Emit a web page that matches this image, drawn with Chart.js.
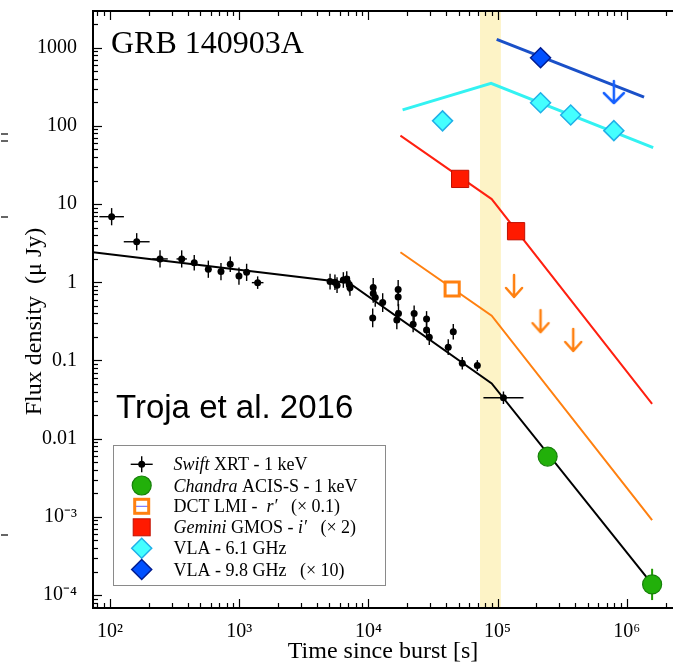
<!DOCTYPE html>
<html>
<head>
<meta charset="utf-8">
<script src="https://cdn.jsdelivr.net/npm/chart.js@4"></script>
<style>
html, body { margin: 0; padding: 0; background: #fff; overflow: hidden; }
canvas { display: block; }
</style>
</head>
<body>
<canvas id="lc" width="673" height="672"></canvas>
<script>
// Swift XRT 1 keV points (time in s, flux in uJy), errors in dex
const xrtTime = [103, 161, 244, 359, 449, 577, 723, 853, 996, 1142, 1390,
  5050, 5510, 5720, 6400, 6800, 7110, 7200,
  10900, 10900, 11300, 10800, 12900,
  17000, 17000, 17100, 16600, 22600, 22200, 28200, 28200, 29600,
  41500, 45400, 53300, 69700, 111000];
const xrtFlux = [6.9, 3.3, 1.99, 1.99, 1.78, 1.47, 1.37, 1.70, 1.20, 1.34, 0.99,
  1.02, 1.0, 0.92, 1.07, 1.10, 0.94, 0.85,
  0.86, 0.72, 0.64, 0.35, 0.55,
  0.81, 0.65, 0.40, 0.33, 0.40, 0.29, 0.34, 0.245, 0.198,
  0.148, 0.233, 0.092, 0.086, 0.0334];
const xrtTimeErr = [0.095, 0.1, 0.06, 0.04, 0.02, 0.02, 0.02, 0.02, 0.02, 0.02, 0.045,
  0.01, 0.01, 0.01, 0.01, 0.01, 0.01, 0.01,
  0.01, 0.01, 0.01, 0.01, 0.01,
  0.01, 0.01, 0.01, 0.01, 0.01, 0.01, 0.01, 0.01, 0.01,
  0.01, 0.01, 0.01, 0.02, 0.155];
const xrtFluxErr = [0.11, 0.11, 0.11, 0.11, 0.1, 0.11, 0.11, 0.1, 0.11, 0.11, 0.08,
  0.1, 0.1, 0.1, 0.1, 0.1, 0.1, 0.1,
  0.12, 0.12, 0.12, 0.12, 0.12,
  0.12, 0.12, 0.12, 0.12, 0.1, 0.1, 0.1, 0.1, 0.1,
  0.1, 0.1, 0.08, 0.07, 0.08];

// Chandra ACIS-S 1 keV
const chandraTime = [244000, 1570000];
const chandraFlux = [0.0059, 1.37e-4];
const chandraFluxErr = [0.05, 0.2];

// DCT LMI r' (x0.1)
const dctTime = [44500];
const dctFlux = [0.82];
const dctLimTime = [134000, 215000, 385000];
const dctLimFlux = [1.24, 0.44, 0.253];

// Gemini GMOS i' (x2)
const gemTime = [51300, 139000];
const gemFlux = [21, 4.5];

// VLA 6.1 GHz
const vla6Time = [37500, 215000, 368000, 794000];
const vla6Flux = [116, 198, 138, 87];

// VLA 9.8 GHz (x10)
const vla9Time = [215000];
const vla9Flux = [745];
const vla9LimTime = [794000];
const vla9LimFlux = [375];

// model curves (broken power laws)
const xrtModelT = [73.9, 7100, 90000, 1570000];
const xrtModelF = [2.42, 0.98, 0.051, 1.38e-4];
const dctModelT = [17700, 90000, 1570000];
const dctModelF = [2.42, 0.374, 9.1e-4];
const gemModelT = [17700, 90000, 1570000];
const gemModelF = [75, 11.6, 0.0278];
const vla6ModelT = [18400, 89000, 1600000];
const vla6ModelF = [160, 351, 52.6];
const vla9ModelT = [98400, 1360000];
const vla9ModelF = [1280, 234];

// shaded interval
const bandStart = 73100;
const bandEnd = 106000;

const yTickLabels = {'-4': '10⁻⁴', '-3': '10⁻³', '-2': '0.01', '-1': '0.1', '0': '1', '1': '10', '2': '100', '3': '1000'};
const xTickLabels = {'2': '10²', '3': '10³', '4': '10⁴', '5': '10⁵', '6': '10⁶'};

const pts = (t, f) => t.map((v, i) => ({x: v, y: f[i]}));

function isPow10(v) {
  const l = Math.log10(v);
  return Math.abs(l - Math.round(l)) < 1e-6;
}
function isMinor(v) {
  const e = Math.floor(Math.log10(v) + 1e-9);
  const m = v / Math.pow(10, e);
  return Math.abs(m - Math.round(m)) < 1e-6;
}

function arrowStyle(color, len, half, headH) {
  const c = document.createElement('canvas');
  c.width = 2 * half + 6;
  c.height = 2 * len + 6;
  const g = c.getContext('2d');
  const cx = c.width / 2, cy = c.height / 2;
  g.strokeStyle = color;
  g.lineWidth = 2.5;
  g.lineCap = 'round';
  g.lineJoin = 'round';
  g.beginPath();
  g.moveTo(cx, cy);
  g.lineTo(cx, cy + len);
  g.moveTo(cx - half, cy + len - headH);
  g.lineTo(cx, cy + len);
  g.lineTo(cx + half, cy + len - headH);
  g.stroke();
  return c;
}

const serif = 'Liberation Serif';

function line(ctx, x1, y1, x2, y2) {
  ctx.beginPath();
  ctx.moveTo(x1, y1);
  ctx.lineTo(x2, y2);
  ctx.stroke();
}

function rich(ctx, x, y, parts, size) {
  parts.forEach(p => {
    ctx.font = (p[1] ? 'italic ' : '') + size + 'px "' + serif + '"';
    ctx.fillText(p[0], x, y);
    x += ctx.measureText(p[0]).width;
  });
}

const decor = {
  id: 'decor',
  beforeDatasetsDraw(chart) {
    const ctx = chart.ctx, a = chart.chartArea;
    const xs = chart.scales.x, ys = chart.scales.y;
    ctx.save();
    // yellow band
    const b1 = xs.getPixelForValue(bandStart), b2 = xs.getPixelForValue(bandEnd);
    ctx.fillStyle = '#fdf3c6';
    ctx.fillRect(b1, a.top, b2 - b1, a.bottom - a.top);
    // XRT error bars
    ctx.strokeStyle = '#000';
    ctx.lineWidth = 1.4;
    xrtTime.forEach((t, i) => {
      const f = xrtFlux[i];
      const px = xs.getPixelForValue(t), py = ys.getPixelForValue(f);
      const dt = Math.pow(10, xrtTimeErr[i]), df = Math.pow(10, xrtFluxErr[i]);
      line(ctx, xs.getPixelForValue(t / dt), py, xs.getPixelForValue(t * dt), py);
      line(ctx, px, ys.getPixelForValue(f / df), px, ys.getPixelForValue(f * df));
    });
    ctx.strokeStyle = '#1f9a00';
    ctx.lineWidth = 2;
    chandraTime.forEach((t, i) => {
      const f = chandraFlux[i], df = Math.pow(10, chandraFluxErr[i]);
      const px = xs.getPixelForValue(t);
      line(ctx, px, ys.getPixelForValue(f / df), px, ys.getPixelForValue(f * df));
    });
    ctx.restore();
  },
  afterDraw(chart) {
    const ctx = chart.ctx, a = chart.chartArea;
    const xs = chart.scales.x, ys = chart.scales.y;
    ctx.save();
    // frame
    ctx.strokeStyle = '#000';
    ctx.lineWidth = 2;
    line(ctx, a.left, a.top, a.right, a.top);
    line(ctx, a.left, a.top - 1, a.left, a.bottom + 1);
    line(ctx, a.left, a.bottom, a.right, a.bottom);
    // inward ticks
    ctx.lineWidth = 1.2;
    xs.ticks.forEach(t => {
      if (!isMinor(t.value)) return;
      const px = Math.round(xs.getPixelForValue(t.value)) + 0.5;
      const L = isPow10(t.value) ? 9 : 5;
      line(ctx, px, a.bottom, px, a.bottom - L);
      line(ctx, px, a.top, px, a.top + L);
    });
    ys.ticks.forEach(t => {
      if (!isMinor(t.value)) return;
      const py = Math.round(ys.getPixelForValue(t.value)) + 0.5;
      const L = isPow10(t.value) ? 9 : 5;
      line(ctx, a.left, py, a.left + L, py);
    });
    // annotations
    ctx.fillStyle = '#000';
    ctx.textBaseline = 'alphabetic';
    ctx.font = '32px "' + serif + '"';
    ctx.fillText('GRB 140903A', 111, 53);
    ctx.font = '33px "Liberation Sans"';
    ctx.fillText('Troja et al. 2016', 116, 418);
    // cropped remnants at the left edge
    ctx.strokeStyle = '#333';
    ctx.lineWidth = 1.5;
    line(ctx, 1, 134, 8, 134);
    line(ctx, 1, 141, 8, 141);
    line(ctx, 1, 217, 8, 217);
    line(ctx, 1, 535, 8, 535);
    // legend
    const lx = 113.5, ly = 445.5, lw = 272, lh = 140;
    ctx.fillStyle = '#fff';
    ctx.fillRect(lx, ly, lw, lh);
    ctx.strokeStyle = '#8a8a8a';
    ctx.lineWidth = 1;
    ctx.strokeRect(lx, ly, lw, lh);
    const mx = 141.7;
    const rows = [464.3, 485.5, 506.3, 527.3, 548.3, 569.5];
    // XRT
    ctx.strokeStyle = '#000';
    ctx.lineWidth = 1.4;
    line(ctx, mx - 11, rows[0], mx + 11, rows[0]);
    line(ctx, mx, rows[0] - 8, mx, rows[0] + 8);
    ctx.fillStyle = '#000';
    ctx.beginPath(); ctx.arc(mx, rows[0], 3.5, 0, 2 * Math.PI); ctx.fill();
    // Chandra
    ctx.fillStyle = '#22b00a';
    ctx.strokeStyle = '#17800a';
    ctx.lineWidth = 1.2;
    ctx.beginPath(); ctx.arc(mx, rows[1], 9.5, 0, 2 * Math.PI); ctx.fill(); ctx.stroke();
    // DCT
    ctx.fillStyle = '#fff';
    ctx.fillRect(mx - 7, rows[2] - 7, 14, 14);
    ctx.strokeStyle = '#6060ff';
    ctx.lineWidth = 1;
    line(ctx, mx - 7, rows[2], mx + 7, rows[2]);
    ctx.strokeStyle = '#ff8010';
    ctx.lineWidth = 3;
    ctx.strokeRect(mx - 7, rows[2] - 7, 14, 14);
    // Gemini
    ctx.fillStyle = '#ff1a00';
    ctx.strokeStyle = '#c01000';
    ctx.lineWidth = 1;
    ctx.fillRect(mx - 8.5, rows[3] - 8.5, 17, 17);
    ctx.strokeRect(mx - 8.5, rows[3] - 8.5, 17, 17);
    // diamonds
    [[rows[4], '#44ffff', '#20b0e8'], [rows[5], '#0050ff', '#001c90']].forEach(d => {
      ctx.fillStyle = d[1];
      ctx.strokeStyle = d[2];
      ctx.lineWidth = 1.5;
      ctx.beginPath();
      ctx.moveTo(mx, d[0] - 10); ctx.lineTo(mx + 10, d[0]);
      ctx.lineTo(mx, d[0] + 10); ctx.lineTo(mx - 10, d[0]);
      ctx.closePath(); ctx.fill(); ctx.stroke();
    });
    ctx.fillStyle = '#000';
    const tx = 173.5, fs = 18;
    rich(ctx, tx, rows[0] + 6, [['Swift', true], [' XRT - 1 keV', false]], fs);
    rich(ctx, tx, rows[1] + 6, [['Chandra', true], [' ACIS-S - 1 keV', false]], fs);
    rich(ctx, tx, rows[2] + 6, [['DCT LMI -  ', false], ['r′', true], ['   (× 0.1)', false]], fs);
    rich(ctx, tx, rows[3] + 6, [['Gemini', true], [' GMOS - ', false], ['i′', true], ['   (× 2)', false]], fs);
    rich(ctx, tx, rows[4] + 6, [['VLA - 6.1 GHz', false]], fs);
    rich(ctx, tx, rows[5] + 6, [['VLA - 9.8 GHz   (× 10)', false]], fs);
    ctx.restore();
  }
};

const modelLine = (t, f, color, w) => ({
  data: pts(t, f), showLine: true, borderColor: color, borderWidth: w,
  pointRadius: 0, fill: false, tension: 0
});

new Chart(document.getElementById('lc'), {
  type: 'scatter',
  data: {
    datasets: [
      {data: pts(xrtTime, xrtFlux), pointRadius: 3.5, backgroundColor: '#000', borderWidth: 0},
      {data: pts(chandraTime, chandraFlux), pointRadius: 9.5, backgroundColor: '#22b00a', borderColor: '#17800a', borderWidth: 1.2},
      {data: pts(dctTime, dctFlux), pointStyle: 'rect', pointRadius: 10, backgroundColor: '#fff', borderColor: '#ff8010', borderWidth: 3},
      {data: pts(dctLimTime, dctLimFlux), pointStyle: arrowStyle('#ff8010', 22, 8, 9)},
      {data: pts(gemTime, gemFlux), pointStyle: 'rect', pointRadius: 12.2, backgroundColor: '#ff1a00', borderColor: '#c01000', borderWidth: 1},
      {data: pts(vla6Time, vla6Flux), pointStyle: 'rectRot', pointRadius: 10, backgroundColor: '#44ffff', borderColor: '#20b0e8', borderWidth: 1.5},
      {data: pts(vla9Time, vla9Flux), pointStyle: 'rectRot', pointRadius: 10, backgroundColor: '#0050ff', borderColor: '#001c90', borderWidth: 1.5},
      {data: pts(vla9LimTime, vla9LimFlux), pointStyle: arrowStyle('#1560ff', 22, 10, 10)},
      modelLine(xrtModelT, xrtModelF, '#000', 2),
      modelLine(dctModelT, dctModelF, '#ff8010', 2),
      modelLine(gemModelT, gemModelF, '#ff2010', 2),
      modelLine(vla6ModelT, vla6ModelF, '#33f2f2', 3),
      modelLine(vla9ModelT, vla9ModelF, '#1a50c8', 3)
    ]
  },
  options: {
    responsive: false,
    animation: false,
    devicePixelRatio: 1,
    layout: {autoPadding: false, padding: {top: 11, right: 0, left: 0, bottom: 0}},
    plugins: {legend: {display: false}, tooltip: {enabled: false}},
    scales: {
      x: {
        type: 'logarithmic', min: 73.9, max: 2278000,
        afterFit: s => { s.height = 64; s.paddingLeft = 0; s.paddingRight = 0; },
        grid: {display: false}, border: {display: false},
        ticks: {
          autoSkip: false, maxRotation: 0, padding: 4, color: '#000',
          font: {family: serif, size: 20},
          callback: v => isPow10(v) ? (xTickLabels[Math.round(Math.log10(v))] || '') : ''
        },
        title: {display: true, text: 'Time since burst [s]', color: '#000',
          font: {family: serif, size: 24}, padding: {bottom: 6}}
      },
      y: {
        type: 'logarithmic', min: 6.84e-5, max: 2946,
        afterFit: s => { s.width = 93; s.paddingTop = 0; s.paddingBottom = 0; },
        grid: {display: false}, border: {display: false},
        ticks: {
          autoSkip: false, padding: 8, color: '#000',
          font: {family: serif, size: 20},
          callback: v => isPow10(v) ? (yTickLabels[Math.round(Math.log10(v))] || '') : ''
        },
        title: {display: true, text: 'Flux density  (μ Jy)    ', color: '#000',
          font: {family: serif, size: 24}, padding: {top: 20}}
      }
    }
  },
  plugins: [decor]
});
</script>
</body>
</html>
